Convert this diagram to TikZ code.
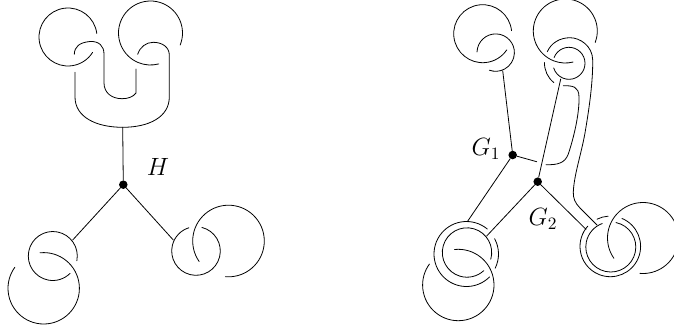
\documentclass[tikz,border=0pt]{standalone}
\usepackage{amsmath}
\usepackage{tikz}
\usetikzlibrary{positioning}
\tikzset{
  knot/.style={draw=black,line width=0.6pt,line cap=round},
  vertex/.style={circle,fill=black,inner sep=0pt,minimum size=6.4pt},
  vlabel/.style={font=\Large,scale=1.3,inner sep=0pt}
}
\newcommand{\ringarc}[5]{\draw[knot] (#1,#2) ++(#3:#5) arc[start angle=#3,end angle=#4,radius=#5];}
\begin{document}
\begin{tikzpicture}[x=0.75pt,y=-0.75pt]
  \useasboundingbox (0,0) rectangle (674,329);
  % vertices
  \node[vertex] (H) at (123.3,184.7) {};
  \node[vertex] (G1) at (512.7,155) {};
  \node[vertex] (G2) at (537.7,181.7) {};
  \node[vlabel] (Hlabel) at (158,167) {$H$};
  \node[vlabel] (G1label) at (486,149) {$G_1$};
  \node[vlabel] (G2label) at (543,219) {$G_2$};
  \coordinate (Hup) at (122.7,127.3);
  \coordinate (Hleft) at (72.7,240);
  \coordinate (Hright) at (173.3,240);
  \coordinate (G1up) at (502.7,70.7);
  \coordinate (G1left) at (467.3,221.7);
  \coordinate (G1right) at (536.7,161.7);
  \coordinate (G2up) at (560.7,79);
  \coordinate (G2left) at (486.7,236);
  \coordinate (G2right) at (586,229.3);
  % left graph
  \draw[knot] (H) -- (Hup);
  \draw[knot] (H) -- (Hleft);
  \draw[knot] (H) -- (Hright);
  \ringarc{68}{37}{-7}{-328}{29}
  \ringarc{150.5}{33}{22}{-285}{32}
  \draw[knot] (74.3,54.3) .. controls (74.5,47) and (79,42.5) .. (90,41.5)
    .. controls (99,41) and (104,46) .. (104,54) -- (104,83)
    .. controls (104,93) and (112,98.7) .. (122,98.7)
    .. controls (128,98.7) and (133,97) .. (136,93) -- (136,69);
  \draw[knot] (75,72.3) -- (75,97) .. controls (75,117) and (96,127.3) .. (Hup)
    .. controls (149,127.3) and (169.3,117) .. (169.3,97) -- (169.3,55)
    .. controls (169.3,47) and (162,42.3) .. (153.3,42.3)
    .. controls (146,42.3) and (140,47) .. (137.7,54.3);
  \ringarc{52.8}{256}{11}{-315}{24.5}
  \ringarc{43.7}{288.3}{-96}{216}{35.7}
  \ringarc{196}{251}{-76}{253}{24.3}
  \ringarc{228.5}{241}{145}{455}{35.8}
  % right graph
  \draw[knot] (G1) -- (G1up);
  \draw[knot] (G1) -- (G1left);
  \draw[knot] (G1) -- (G1right);
  \draw[knot] (G2) -- (G2up);
  \draw[knot] (G2) -- (G2left);
  \draw[knot] (G2) -- (G2right);
  \ringarc{482.7}{33.7}{-6}{-326}{29}
  \ringarc{495.7}{52.6}{182}{470}{18.7}
  \ringarc{565.3}{31}{21}{-284}{32}
  \ringarc{569}{63.3}{201}{523}{16}
  \ringarc{569}{63.3}{182}{128}{24.5}
  \draw[knot] (547.3,51.7) .. controls (551,43) and (560,37.7) .. (570,37.7)
    .. controls (580,37.7) and (592.5,46) .. (592.7,60)
    .. controls (593,85) and (588,115) .. (585,133)
    .. controls (581,155) and (574,175) .. (573.3,192)
    .. controls (573,198) and (575,203) .. (580,208) -- (597,225);
  \draw[knot] (563.3,85.7) .. controls (572,85.7) and (579,86) .. (579,97)
    .. controls (579.5,115) and (573,140) .. (568.3,154)
    .. controls (565,163) and (558,165) .. (546,164.7);
  \ringarc{466.5}{254}{-50}{-315}{32.5}
  \ringarc{466.5}{254}{-28.6}{26.6}{32}
  \ringarc{467}{252.5}{16}{-313}{24.7}
  \ringarc{458.3}{285}{-96}{216}{35.7}
  \ringarc{610.3}{246.4}{-67.4}{222}{30.3}
  \ringarc{610.3}{246.4}{244}{266}{30.3}
  \ringarc{610.8}{247}{-78}{250}{25}
  \ringarc{643}{238}{145}{455}{35.5}
\end{tikzpicture}
\end{document}
